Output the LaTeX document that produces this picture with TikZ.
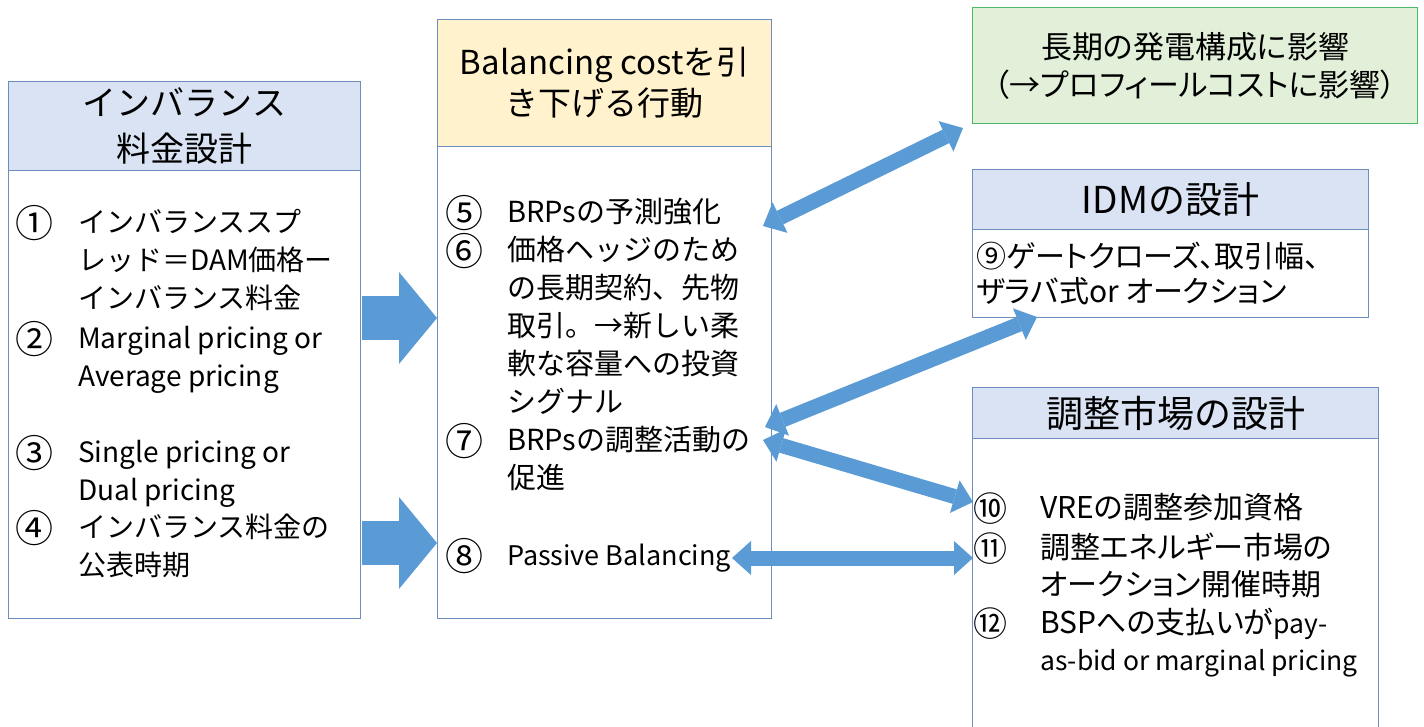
\documentclass[tikz,border=0pt]{standalone}
\usepackage{fontspec}
\setmainfont{Noto Sans CJK JP}
\newfontfamily\jpprop{Noto Sans CJK JP}[RawFeature=+palt]
\usetikzlibrary{arrows.meta}
\definecolor{boxline}{HTML}{6C8EBF}
\definecolor{hdrblue}{HTML}{DAE3F3}
\definecolor{hdrsand}{HTML}{FFF2CC}
\definecolor{greenfill}{HTML}{E2F0D9}
\definecolor{greenline}{HTML}{4CB86A}
\definecolor{arrowblue}{HTML}{5B9BD5}

\begin{document}
\begin{tikzpicture}[x=1pt,y=-1pt,
  boxframe/.style={draw=boxline, line width=1.3pt, anchor=north west, inner sep=0pt},
  hdrtext/.style={align=center, font=\fontsize{34}{46}\selectfont},
  tl/.style={anchor=west, inner sep=0pt, text height=0.85em, text depth=0.15em, yshift=-7pt},
  num/.style={anchor=center, inner sep=0pt, yshift=-1pt},
  ltext/.style={tl, font=\fontsize{28}{34}\selectfont},
  lnum/.style={num, font=\fontsize{38}{40}\selectfont},
  mtext/.style={tl, font=\fontsize{29}{34}\selectfont},
  rtext/.style={tl, font=\jpprop\fontsize{30}{34}\selectfont},
  rnum/.style={num, font=\jpprop\fontsize{34}{36}\selectfont},
  dbl/.style={draw=arrowblue, line width=15pt,
    {Triangle[length=19pt,width=34pt,line width=0pt]}-{Triangle[length=19pt,width=34pt,line width=0pt]}},
  fat/.style={draw=arrowblue, line width=44pt,
    -{Triangle[length=38pt,width=92pt,line width=0pt]}}
]
\useasboundingbox (0,0) rectangle (1424,727);
\clip (0,0) rectangle (1424,727);
\fill[white] (0,0) rectangle (1424,727);

% ---- left column: imbalance pricing design
\node[boxframe, minimum width=352pt, minimum height=448pt] (lbody) at (8,170) {};
\node[boxframe, fill=hdrblue, minimum width=352pt, minimum height=89pt, hdrtext] (lhead) at (8,81)
  {インバランス\\料金設計};

\node[lnum] (n1) at (35,222) {①};
\node[ltext] (t1a) at (78,222) {インバランススプ};
\node[ltext] (t1b) at (78,260) {レッド＝DAM価格ー};
\node[ltext] (t1c) at (78,298) {インバランス料金};
\node[lnum] (n2) at (35,338) {②};
\node[ltext] (t2a) at (78,338) {Marginal pricing or};
\node[ltext] (t2b) at (78,376) {Average pricing};
\node[lnum] (n3) at (35,452) {③};
\node[ltext] (t3a) at (78,452) {Single pricing or};
\node[ltext] (t3b) at (78,490) {Dual pricing};
\node[lnum] (n4) at (35,527) {④};
\node[ltext] (t4a) at (78,527) {インバランス料金の};
\node[ltext] (t4b) at (78,565) {公表時期};

% ---- middle column: actions lowering balancing cost
\node[boxframe, minimum width=334pt, minimum height=472pt] (mbody) at (437,146) {};
\node[boxframe, fill=hdrsand, minimum width=334pt, minimum height=127pt, hdrtext,
  font=\fontsize{33}{41}\selectfont] (mhead) at (437,19)
  {Balancing costを引\\き下げる行動};

\node[lnum] (n5) at (464,212) {⑤};
\node[mtext] (t5a) at (507,212) {BRPsの予測強化};
\node[lnum] (n6) at (464,250) {⑥};
\node[mtext] (t6a) at (507,250) {価格ヘッジのため};
\node[mtext] (t6b) at (507,288) {の長期契約、先物};
\node[mtext] (t6c) at (507,326) {取引。→新しい柔};
\node[mtext] (t6d) at (507,364) {軟な容量への投資};
\node[mtext] (t6e) at (507,402) {シグナル};
\node[lnum] (n7) at (464,440) {⑦};
\node[mtext] (t7a) at (507,440) {BRPsの調整活動の};
\node[mtext] (t7b) at (507,478) {促進};
\node[lnum] (n8) at (464,555) {⑧};
\node[mtext, font=\fontsize{27}{34}\selectfont] (t8a) at (507,555) {Passive Balancing};

% ---- right column
\node[boxframe, draw=greenline, fill=greenfill, minimum width=445pt, minimum height=116pt,
  align=center, font=\jpprop\fontsize{31}{38}\selectfont] (green) at (972,7)
  {長期の発電構成に影響\\（→プロフィールコストに影響）};

\node[boxframe, minimum width=396pt, minimum height=88pt] (ibody) at (972,229) {};
\node[boxframe, fill=hdrblue, minimum width=396pt, minimum height=60pt, hdrtext,
  font=\fontsize{37}{40}\selectfont] (ihead) at (972,169) {IDMの設計};
\node[rtext] (t9a) at (976,257) {⑨ゲートクローズ、取引幅、};
\node[rtext] (t9b) at (976,292) {ザラバ式or オークション};

\node[boxframe, minimum width=406pt, minimum height=310pt] (cbody) at (972,438) {};
\node[boxframe, fill=hdrblue, minimum width=406pt, minimum height=51pt, hdrtext,
  font=\fontsize{37}{40}\selectfont] (chead) at (972,387) {調整市場の設計};

\node[rnum] (n10) at (990,508) {⑩};
\node[rtext] (t10a) at (1040,508) {VREの調整参加資格};
\node[rnum] (n11) at (990,548) {⑪};
\node[rtext] (t11a) at (1040,548) {調整エネルギー市場の};
\node[rtext] (t11b) at (1040,585) {オークション開催時期};
\node[rnum] (n12) at (990,623) {⑫};
\node[rtext] (t12a) at (1040,623) {BSPへの支払いが{\fontsize{26.5}{30}\selectfont pay-}};
\node[rtext, font=\jpprop\fontsize{26.5}{30}\selectfont] (t12b) at (1040,660) {as-bid or marginal pricing};

% ---- connector end points
\coordinate (fa1s) at (362,318);
\coordinate (fa1e) at (437,318);
\coordinate (fa2s) at (362,543);
\coordinate (fa2e) at (437,543);
\coordinate (d1a) at (763,226);
\coordinate (d1b) at (963,128);
\coordinate (d2a) at (765,427);
\coordinate (d2b) at (1037,317);
\coordinate (d3a) at (763,440);
\coordinate (d3b) at (973,502);
\coordinate (d4a) at (732,558);
\coordinate (d4b) at (973,558);

% ---- arrows
\draw[fat] (fa1s) -- (fa1e);
\draw[fat] (fa2s) -- (fa2e);
\draw[dbl] (d1a) -- (d1b);
\draw[dbl] (d2a) -- (d2b);
\draw[dbl] (d3a) -- (d3b);
\draw[dbl] (d4a) -- (d4b);
\end{tikzpicture}
\end{document}
